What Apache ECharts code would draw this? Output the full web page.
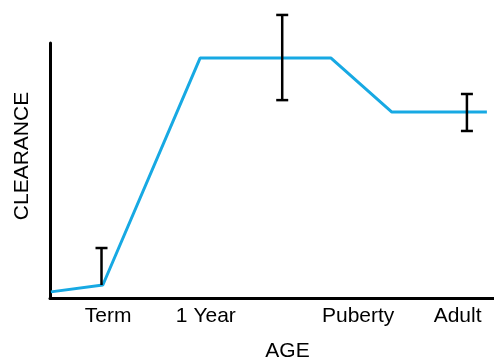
<!DOCTYPE html>
<html>
<head>
<meta charset="utf-8">
<script src="https://cdn.jsdelivr.net/npm/echarts@6/dist/echarts.min.js"></script>
<style>
  html, body { margin: 0; padding: 0; background: #fff; }
  #chart { width: 494px; height: 359px; }
</style>
</head>
<body>
<div id="chart"></div>
<script>
// Clearance across development (relative units on both axes)
const ageLabels = ['Term', '1 Year', 'Puberty', 'Adult'];
const ageLabelPos = [13.1, 35.1, 69.4, 91.8];

const curveAge = [0.2, 11.9, 33.8, 63.3, 77.0, 98.4];
const curveClearance = [2.4, 5.1, 94.1, 94.1, 72.9, 72.9];

const errAge = [11.6, 52.3, 93.9];
const errLow = [5.1, 77.6, 65.5];
const errHigh = [19.6, 111, 80];
const errLowCap = [false, true, true];

const FONT = 'Liberation Sans, Arial, Helvetica, sans-serif';

const chart = echarts.init(document.getElementById('chart'), null, { renderer: 'canvas' });

chart.setOption({
  animation: false,
  backgroundColor: '#ffffff',
  grid: { left: 50, right: 0, top: 43, bottom: 61 },
  xAxis: {
    type: 'value',
    min: 0,
    max: 100,
    splitLine: { show: false },
    axisTick: { show: false },
    axisLine: { show: true, lineStyle: { color: '#000', width: 3 } },
    axisLabel: {
      show: true,
      customValues: ageLabelPos,
      margin: 8,
      fontSize: 21,
      fontFamily: FONT,
      color: '#000',
      formatter: function (v) {
        const i = ageLabelPos.indexOf(v);
        return i >= 0 ? ageLabels[i] : '';
      }
    }
  },
  yAxis: {
    type: 'value',
    min: 0,
    max: 100,
    splitLine: { show: false },
    axisTick: { show: false },
    axisLabel: { show: false },
    axisLine: { show: true, lineStyle: { color: '#000', width: 3 } }
  },
  graphic: [
    {
      type: 'text',
      x: 287.5,
      y: 351,
      style: {
        text: 'AGE',
        font: '21px ' + FONT,
        fill: '#000',
        align: 'center',
        verticalAlign: 'middle'
      }
    },
    {
      type: 'text',
      x: 22,
      y: 156,
      rotation: Math.PI / 2,
      style: {
        text: 'CLEARANCE',
        font: '21px ' + FONT,
        fill: '#000',
        align: 'center',
        verticalAlign: 'middle'
      }
    }
  ],
  series: [
    {
      type: 'line',
      data: curveAge.map((x, i) => [x, curveClearance[i]]),
      symbol: 'none',
      lineStyle: { color: '#17a9e3', width: 3 },
      z: 2
    },
    {
      type: 'custom',
      clip: false,
      data: errAge.map((x, i) => [x, errLow[i], errHigh[i], errLowCap[i] ? 1 : 0]),
      renderItem: function (params, api) {
        const lo = api.coord([api.value(0), api.value(1)]);
        const hi = api.coord([api.value(0), api.value(2)]);
        const w = 6;
        const style = { stroke: '#000', lineWidth: 2.5 };
        const parts = [
          { type: 'line', shape: { x1: lo[0], y1: lo[1], x2: hi[0], y2: hi[1] }, style: style },
          { type: 'line', shape: { x1: hi[0] - w, y1: hi[1], x2: hi[0] + w, y2: hi[1] }, style: style }
        ];
        if (api.value(3)) {
          parts.push({ type: 'line', shape: { x1: lo[0] - w, y1: lo[1], x2: lo[0] + w, y2: lo[1] }, style: style });
        }
        return { type: 'group', children: parts };
      },
      z: 3
    }
  ]
});
</script>
</body>
</html>
